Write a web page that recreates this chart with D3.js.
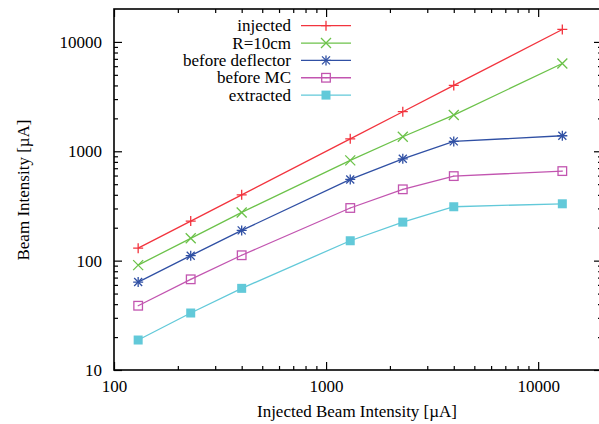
<!DOCTYPE html>
<html><head><meta charset="utf-8">
<script src="https://cdn.jsdelivr.net/npm/d3@7"></script>
<style>
html,body{margin:0;padding:0;background:#fff;}
text{font-family:"Liberation Serif","Times New Roman",serif;}
</style></head>
<body><svg id="c" width="599" height="424"></svg>
<script>
const injectedX = [130, 230, 400, 1300, 2300, 4000, 13000];
const seriesNames = ["injected", "R=10cm", "before deflector", "before MC", "extracted"];
const injected = [130, 230, 400, 1300, 2300, 4000, 13000];
const r10cm = [91, 160, 276, 826, 1358, 2143, 6350];
const beforeDeflector = [63.7, 111, 189, 553, 853, 1231, 1387];
const beforeMC = [38.7, 67.5, 112, 303, 449, 593, 659];
const extracted = [18.8, 33.2, 55.8, 152, 225, 311, 331];
const majorTicks = [10, 100, 1000, 10000];
const xMajorTicks = [100, 1000, 10000];
const xLabel = "Injected Beam Intensity [µA]";
const yLabel = "Beam Intensity [µA]";

const colors = ["#f2343e", "#6cc24a", "#3050a4", "#c255b0", "#62c9d9"];
const symbols = ["plus", "cross", "star", "box", "fbox"];
const allSeries = [injected, r10cm, beforeDeflector, beforeMC, extracted];

const svg = d3.select("#c");
const L = 114, R = 602, T = 9, B = 370;
const x = d3.scaleLog().domain([100, 20000]).range([L, R]);
const y = d3.scaleLog().domain([10, 20000]).range([B, T]);

function minors(lo, hi) {
  const out = [];
  for (let d = lo; d < hi; d *= 10)
    for (let k = 2; k <= 9; k++) if (d * k < hi) out.push(d * k);
  return out;
}
const xMinor = minors(100, 20000);
const yMinor = minors(10, 20000);

const fontSize = 17;
function styleAxis(g) {
  g.select(".domain").remove();
  g.selectAll("line").attr("stroke", "#000").attr("stroke-width", 1.2);
  g.selectAll("text").attr("font-family", "Liberation Serif, serif").attr("font-size", fontSize).attr("fill", "#000");
}

// left
svg.append("g").attr("transform", `translate(${L},0)`)
  .call(d3.axisLeft(y).tickValues(majorTicks).tickFormat(d3.format("d")).tickSizeInner(-8).tickSizeOuter(0).tickPadding(12))
  .call(styleAxis);
svg.append("g").attr("transform", `translate(${L},0)`)
  .call(d3.axisLeft(y).tickValues(yMinor).tickFormat("").tickSizeInner(-4).tickSizeOuter(0))
  .call(styleAxis);
// right
svg.append("g").attr("transform", `translate(${R},0)`)
  .call(d3.axisRight(y).tickValues(majorTicks).tickFormat("").tickSizeInner(-8).tickSizeOuter(0))
  .call(styleAxis);
svg.append("g").attr("transform", `translate(${R},0)`)
  .call(d3.axisRight(y).tickValues(yMinor).tickFormat("").tickSizeInner(-4).tickSizeOuter(0))
  .call(styleAxis);
// bottom
svg.append("g").attr("transform", `translate(0,${B})`)
  .call(d3.axisBottom(x).tickValues(xMajorTicks).tickFormat(d3.format("d")).tickSizeInner(-8).tickSizeOuter(0).tickPadding(10))
  .call(styleAxis);
svg.append("g").attr("transform", `translate(0,${B})`)
  .call(d3.axisBottom(x).tickValues(xMinor).tickFormat("").tickSizeInner(-4).tickSizeOuter(0))
  .call(styleAxis);
// top
svg.append("g").attr("transform", `translate(0,${T})`)
  .call(d3.axisTop(x).tickValues(xMajorTicks).tickFormat("").tickSizeInner(-8).tickSizeOuter(0))
  .call(styleAxis);
svg.append("g").attr("transform", `translate(0,${T})`)
  .call(d3.axisTop(x).tickValues(xMinor).tickFormat("").tickSizeInner(-4).tickSizeOuter(0))
  .call(styleAxis);

// frame
svg.append("rect").attr("x", L).attr("y", T).attr("width", R - L).attr("height", B - T)
  .attr("fill", "none").attr("stroke", "#000").attr("stroke-width", 1.6);

// axis titles
svg.append("text").attr("x", 357).attr("y", 417).attr("text-anchor", "middle")
  .attr("font-size", fontSize).text(xLabel);
svg.append("text").attr("transform", "translate(29,190) rotate(-90)").attr("text-anchor", "middle")
  .attr("font-size", fontSize).text(yLabel);

function marker(g, type, cx, cy, color) {
  const h = 5;
  const s = g.append("g").attr("stroke", color).attr("stroke-width", 1.3).attr("fill", "none");
  if (type === "plus" || type === "star") {
    s.append("path").attr("d", `M${cx - h},${cy}H${cx + h}M${cx},${cy - h}V${cy + h}`);
  }
  if (type === "cross" || type === "star") {
    const k = type === "star" ? 4 : 5;
    s.append("path").attr("d", `M${cx - k},${cy - k}L${cx + k},${cy + k}M${cx - k},${cy + k}L${cx + k},${cy - k}`);
  }
  if (type === "box") {
    s.append("rect").attr("x", cx - 4.3).attr("y", cy - 4.3).attr("width", 8.6).attr("height", 8.6);
    s.append("rect").attr("x", cx - 0.5).attr("y", cy - 0.5).attr("width", 1).attr("height", 1).attr("fill", color).attr("stroke", "none");
  }
  if (type === "fbox") {
    s.append("rect").attr("x", cx - 4.5).attr("y", cy - 4.5).attr("width", 9).attr("height", 9)
      .attr("fill", color).attr("stroke", "none");
  }
}

const line = d3.line().x(d => x(d[0])).y(d => y(d[1]));
allSeries.forEach((vals, i) => {
  const pts = injectedX.map((xv, j) => [xv, vals[j]]);
  svg.append("path").datum(pts).attr("d", line).attr("fill", "none")
    .attr("stroke", colors[i]).attr("stroke-width", 1.3);
  const g = svg.append("g");
  pts.forEach(p => marker(g, symbols[i], x(p[0]), y(p[1]), colors[i]));
});

// legend
seriesNames.forEach((name, i) => {
  const cy = 25.7 + 17.35 * i;
  svg.append("text").attr("x", 291).attr("y", cy + 5.5).attr("text-anchor", "end")
    .attr("font-size", fontSize).text(name);
  svg.append("line").attr("x1", 301).attr("x2", 351).attr("y1", cy).attr("y2", cy)
    .attr("stroke", colors[i]).attr("stroke-width", 1.3);
  marker(svg, symbols[i], 326, cy, colors[i]);
});
</script></body></html>
